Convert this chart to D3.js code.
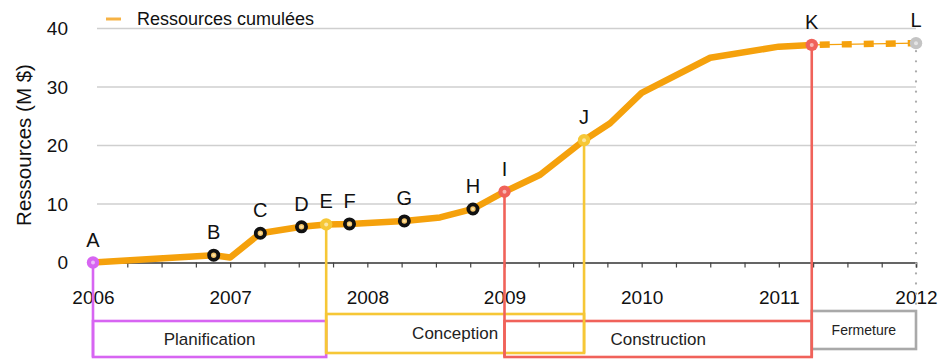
<!DOCTYPE html>
<html><head><meta charset="utf-8">
<script src="https://cdn.jsdelivr.net/npm/d3@7"></script>
<style>body{margin:0;background:#fff}</style>
</head><body>
<svg id="chart" width="940" height="360"></svg>
<script>
// Cumulative resources (M $) along the project timeline
const years  = [2006.0, 2006.88, 2007.0, 2007.22, 2007.52, 2007.7, 2007.87, 2008.27, 2008.53, 2008.77, 2009.0, 2009.26, 2009.58, 2009.77, 2010.0, 2010.5, 2011.0, 2011.24];
const values = [0, 1.25, 0.85, 5.0, 6.1, 6.5, 6.6, 7.1, 7.7, 9.15, 12.1, 15.0, 20.9, 23.8, 29.0, 35.0, 36.9, 37.2];
const pointLabels = ["A", "B", "", "C", "D", "E", "F", "G", "", "H", "I", "", "J", "", "", "", "", "K"];

// Projected closing segment (dashed)
const projYears  = [2011.24, 2012.0];
const projValues = [37.2, 37.5];
const projLabels = ["", "L"];

// Milestone marker kinds by label
const milestoneKinds = {A: "planif", B: "step", C: "step", D: "step", E: "concept", F: "step", G: "step", H: "step", I: "constr", J: "concept", K: "constr", L: "close"};

// Project phases
const phaseNames = ["Planification", "Conception", "Construction", "Fermeture"];
const phaseStart = [2006.0, 2007.7, 2009.0, 2011.24];
const phaseEnd   = [2007.7, 2009.58, 2011.24, 2012.0];

const yTicks = [0, 10, 20, 30, 40];
const xYears = [2006, 2007, 2008, 2009, 2010, 2011, 2012];
const legendLabel = "Ressources cumulées";
const yTitle = "Ressources (M $)";

// ---- styles / layout ----
const FONT = "'Liberation Sans', Arial, Helvetica, sans-serif";
const ORANGE = "#f5a10c";
const kindColor = {planif: "#d765f2", concept: "#f6c736", constr: "#f0625a", close: "#c4c4c4"};
const phaseColor = ["#d765f2", "#f6c736", "#f0625a", "#a9a9a9"];
const phaseBox = [
  {top: 321, bottom: 357, textSize: 17},
  {top: 314, bottom: 353, textSize: 17},
  {top: 321, bottom: 357, textSize: 17},
  {top: 311, bottom: 349, textSize: 14}
];

const svg = d3.select("#chart");
const x = d3.scaleLinear().domain([2006, 2012]).range([93, 916]);
const y = d3.scaleLinear().domain([0, 40]).range([262.5, 28.5]);

// horizontal gridlines
svg.append("g").selectAll("line").data(yTicks.filter(d => d > 0)).join("line")
  .attr("x1", 97).attr("x2", x(2012))
  .attr("y1", d => y(d)).attr("y2", d => y(d))
  .attr("stroke", "#cfcfcf").attr("stroke-width", 1.5);

// y axis labels
const yAxis = svg.append("g").attr("transform", "translate(72,0)")
  .call(d3.axisLeft(y).tickValues(yTicks).tickSize(0).tickPadding(4).tickFormat(d3.format("d")));
yAxis.select(".domain").remove();
yAxis.selectAll("text").attr("font-family", FONT).attr("font-size", 19).attr("fill", "#111");

// y title
svg.append("text")
  .attr("transform", "translate(23,145) rotate(-90)")
  .attr("text-anchor", "middle").attr("dominant-baseline", "central")
  .attr("font-family", FONT).attr("font-size", 20.5).attr("fill", "#111")
  .text(yTitle);

// x axis: quarterly minor ticks
const quarters = d3.range(0, 25).map(i => 2006 + i * 0.25);
const xMinor = svg.append("g").attr("transform", `translate(0,${y(0)})`)
  .call(d3.axisBottom(x).tickValues(quarters).tickSize(5).tickFormat(""));
xMinor.select(".domain").attr("stroke", "#333").attr("stroke-width", 1.5);
xMinor.selectAll(".tick line").attr("stroke", "#444").attr("stroke-width", 1.2);

// x axis: year labels
const xLab = svg.append("g").attr("transform", `translate(0,${y(0)})`)
  .call(d3.axisBottom(x).tickValues(xYears).tickSize(0).tickPadding(0).tickFormat(d3.format("d")));
xLab.select(".domain").remove();
xLab.selectAll("text").attr("font-family", FONT).attr("font-size", 19).attr("fill", "#111")
  .attr("dy", null).attr("y", 41.5);

// phase boxes
const phases = phaseNames.map((n, i) => ({name: n, s: phaseStart[i], e: phaseEnd[i], c: phaseColor[i], b: phaseBox[i]}));
const pg = svg.append("g");
pg.selectAll("rect").data(phases).join("rect")
  .attr("x", d => x(d.s)).attr("width", d => x(d.e) - x(d.s))
  .attr("y", d => d.b.top).attr("height", d => d.b.bottom - d.b.top)
  .attr("fill", "none").attr("stroke", d => d.c).attr("stroke-width", 2.6);
pg.selectAll("text").data(phases).join("text")
  .attr("x", d => (x(d.s) + x(d.e)) / 2).attr("y", d => (d.b.top + d.b.bottom) / 2)
  .attr("text-anchor", "middle").attr("dominant-baseline", "central")
  .attr("font-family", FONT).attr("font-size", d => d.b.textSize).attr("fill", "#222")
  .text(d => d.name);

// milestones (all labelled points)
const milestones = [];
years.forEach((yr, i) => { if (pointLabels[i]) milestones.push({yr, v: values[i], lab: pointLabels[i]}); });
projYears.forEach((yr, i) => { if (projLabels[i]) milestones.push({yr, v: projValues[i], lab: projLabels[i]}); });

// vertical connectors from coloured milestones to phase boxes
const connBottom = {planif: 357, concept: 353, constr: 357};
const cg = svg.append("g");
milestones.filter(m => milestoneKinds[m.lab] !== "step").forEach(m => {
  const k = milestoneKinds[m.lab];
  if (k === "close") {
    cg.append("line").attr("x1", x(m.yr)).attr("x2", x(m.yr))
      .attr("y1", y(m.v) + 8).attr("y2", phaseBox[3].top)
      .attr("stroke", "#aaa").attr("stroke-width", 2.2)
      .attr("stroke-dasharray", "0.1 10").attr("stroke-linecap", "round");
  } else {
    cg.append("line").attr("x1", x(m.yr)).attr("x2", x(m.yr))
      .attr("y1", y(m.v)).attr("y2", connBottom[k])
      .attr("stroke", kindColor[k]).attr("stroke-width", 2.6);
  }
});

// cumulative line
const line = d3.line().x(d => x(d[0])).y(d => y(d[1]));
svg.append("path").datum(years.map((yr, i) => [yr, values[i]]))
  .attr("d", line).attr("fill", "none").attr("stroke", ORANGE)
  .attr("stroke-width", 6.5).attr("stroke-linejoin", "round");

// projected segment: thin guide plus heavy dashes
const projData = projYears.map((yr, i) => [yr, projValues[i]]);
svg.append("path").datum(projData).attr("d", line).attr("fill", "none")
  .attr("stroke", ORANGE).attr("stroke-width", 1.2);
svg.append("path").datum(projData).attr("d", line).attr("fill", "none")
  .attr("stroke", ORANGE).attr("stroke-width", 6.5).attr("stroke-dasharray", "10 12")
  .attr("stroke-dashoffset", -8);

// markers
const mg = svg.append("g");
milestones.forEach(m => {
  const k = milestoneKinds[m.lab];
  const cx = x(m.yr), cy = y(m.v);
  if (k === "step") {
    mg.append("circle").attr("cx", cx).attr("cy", cy).attr("r", 4.6)
      .attr("fill", "#f3c46a").attr("stroke", "#111").attr("stroke-width", 3.8);
    mg.append("circle").attr("cx", cx).attr("cy", cy).attr("r", 1.3).attr("fill", "#fbe3a8");
  } else {
    mg.append("circle").attr("cx", cx).attr("cy", cy).attr("r", 6.2)
      .attr("fill", kindColor[k]);
    mg.append("circle").attr("cx", cx).attr("cy", cy).attr("r", 2)
      .attr("fill", "#fff").attr("opacity", 0.55);
  }
  mg.append("text").attr("x", cx).attr("y", cy - 16)
    .attr("text-anchor", "middle").attr("font-family", FONT)
    .attr("font-size", 20).attr("fill", "#111").text(m.lab);
});

// legend
svg.append("line").attr("x1", 106).attr("x2", 121).attr("y1", 19).attr("y2", 19)
  .attr("stroke", "#f6b244").attr("stroke-width", 3);
svg.append("text").attr("x", 137).attr("y", 19).attr("dominant-baseline", "central")
  .attr("font-family", FONT).attr("font-size", 18).attr("fill", "#111").text(legendLabel);
</script>
</body></html>
